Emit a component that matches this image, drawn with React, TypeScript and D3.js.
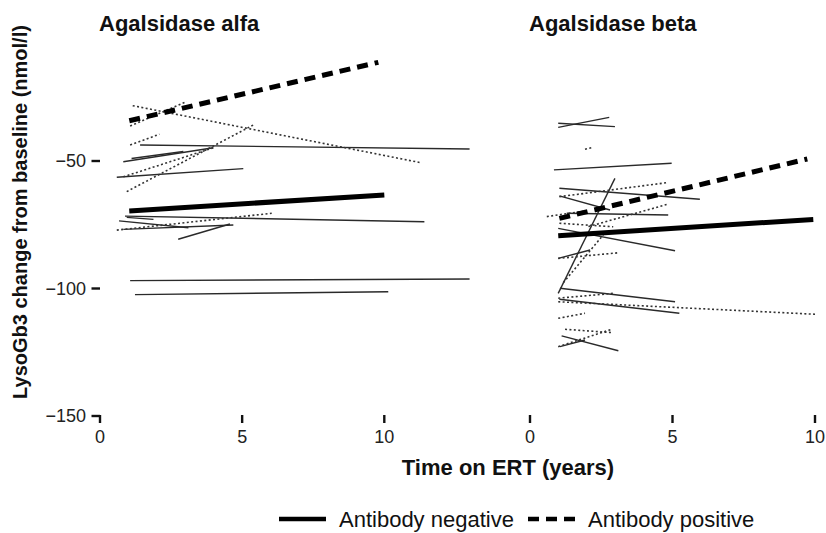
import React from 'react';
import * as d3 from 'd3';

type Seg = [number, number, number, number]; // t0, v0, t1, v1

const panelTitles = ['Agalsidase alfa', 'Agalsidase beta'];
const xTicks = [0, 5, 10];
const yTicks = [-50, -100, -150];
const legendLabels = ['Antibody negative', 'Antibody positive'];

// Agalsidase alfa: individual patient regression lines
const alfaNegative: Seg[] = [
  [1.41, -43.7, 13.0, -45.3],
  [0.82, -50.3, 3.99, -44.8],
  [1.11, -49.0, 2.93, -46.3],
  [0.59, -56.4, 5.04, -53.0],
  [0.88, -71.6, 11.41, -73.8],
  [0.94, -72.1, 1.88, -72.9],
  [0.67, -73.5, 3.11, -76.2],
  [0.82, -76.8, 4.69, -75.1],
  [2.75, -80.7, 4.57, -74.7],
  [1.06, -96.9, 13.0, -96.3],
  [1.23, -102.4, 10.14, -101.3],
];
const alfaPositive: Seg[] = [
  [1.15, -28.3, 11.3, -50.7],
  [1.06, -36.3, 3.05, -26.7],
  [1.06, -43.7, 2.09, -39.5],
  [0.82, -56.2, 3.99, -44.8],
  [0.94, -62.0, 5.39, -35.9],
  [0.59, -77.1, 6.04, -70.5],
];
const alfaMeanNegative: Seg = [1.03, -69.6, 10.0, -63.3];
const alfaMeanPositive: Seg = [1.03, -34.2, 9.79, -11.3];

// Agalsidase beta: individual patient regression lines
const betaNegative: Seg[] = [
  [0.99, -36.8, 2.78, -32.9],
  [0.99, -35.2, 2.98, -36.5],
  [0.84, -53.5, 4.97, -50.9],
  [0.99, -101.9, 2.98, -56.8],
  [1.03, -60.7, 5.96, -65.0],
  [1.03, -63.7, 2.81, -69.2],
  [0.99, -76.4, 5.09, -85.2],
  [1.29, -70.5, 4.85, -71.2],
  [0.99, -88.2, 2.11, -84.9],
  [1.05, -99.9, 5.09, -105.2],
  [1.03, -104.2, 5.24, -109.7],
  [1.11, -118.6, 3.1, -124.4],
  [1.05, -122.8, 1.93, -120.2],
];
const betaPositive: Seg[] = [
  [1.93, -45.4, 2.16, -44.8],
  [1.03, -64.0, 4.8, -58.5],
  [0.59, -71.8, 2.0, -69.5],
  [2.05, -75.7, 4.85, -66.9],
  [1.17, -97.7, 2.57, -79.0],
  [1.03, -74.4, 2.92, -75.8],
  [0.99, -88.2, 3.1, -86.0],
  [0.99, -103.8, 2.92, -101.9],
  [0.99, -105.2, 10.0, -110.1],
  [0.99, -111.7, 1.93, -109.7],
  [1.23, -116.0, 2.87, -117.3],
  [0.99, -122.8, 2.87, -116.0],
];
const betaMeanNegative: Seg = [0.99, -79.3, 9.94, -72.9];
const betaMeanPositive: Seg = [1.03, -72.5, 9.73, -49.2];

const FONT = 'Liberation Sans, Arial, Helvetica, sans-serif';

export default function App() {
  const W = 826;
  const H = 533;
  const y = d3.scaleLinear().domain([-50, -150]).range([161, 416]);
  const xAlfa = d3.scaleLinear().domain([0, 10]).range([100, 384.3]);
  const xBeta = d3.scaleLinear().domain([0, 10]).range([530, 815]);

  const panels = [
    { title: panelTitles[0], x: xAlfa, neg: alfaNegative, pos: alfaPositive, mNeg: alfaMeanNegative, mPos: alfaMeanPositive },
    { title: panelTitles[1], x: xBeta, neg: betaNegative, pos: betaPositive, mNeg: betaMeanNegative, mPos: betaMeanPositive },
  ];

  const path = (x: d3.ScaleLinear<number, number>, s: Seg) =>
    d3.line<[number, number]>().x((d) => x(d[0])).y((d) => y(d[1]))([
      [s[0], s[1]],
      [s[2], s[3]],
    ]) || '';

  const tickTop = y(-150);

  return (
    <svg width={W} height={H} style={{ position: 'absolute', left: 0, top: 0, background: '#fff' }} fontFamily={FONT}>
      <rect x={0} y={0} width={W} height={H} fill="#fff" />
      {/* y axis title */}
      <text
        transform={`translate(27,212) rotate(-90)`}
        textAnchor="middle"
        fontSize={20}
        fontWeight="bold"
        fill="#111"
      >
        LysoGb3 change from baseline (nmol/l)
      </text>
      {/* y ticks */}
      {yTicks.map((v) => (
        <g key={v}>
          <line x1={91.5} x2={100} y1={y(v)} y2={y(v)} stroke="#111" strokeWidth={2.4} />
          <text x={86} y={y(v)} dy="0.35em" textAnchor="end" fontSize={18} fill="#222">
            {'\u2212' + Math.abs(v)}
          </text>
        </g>
      ))}
      {panels.map((p, i) => (
        <g key={i}>
          <text x={p.x(0) - 1} y={31} fontSize={22} fontWeight="bold" fill="#111">
            {p.title}
          </text>
          {xTicks.map((t) => (
            <g key={t}>
              <line x1={p.x(t)} x2={p.x(t)} y1={tickTop - 1} y2={tickTop + 7} stroke="#111" strokeWidth={2.4} />
              <text x={p.x(t)} y={tickTop + 27} textAnchor="middle" fontSize={18} fill="#222">
                {t}
              </text>
            </g>
          ))}
          {p.neg.map((s, j) => (
            <path key={'n' + j} d={path(p.x, s)} stroke="#2a2a2a" strokeWidth={1.4} fill="none" />
          ))}
          {p.pos.map((s, j) => (
            <path
              key={'p' + j}
              d={path(p.x, s)}
              stroke="#333"
              strokeWidth={1.6}
              strokeDasharray="2,2.4"
              fill="none"
            />
          ))}
          <path d={path(p.x, p.mNeg)} stroke="#000" strokeWidth={5} fill="none" />
          <path d={path(p.x, p.mPos)} stroke="#000" strokeWidth={5} strokeDasharray="11,7" fill="none" />
        </g>
      ))}
      {/* x axis title */}
      <text x={508} y={475} textAnchor="middle" fontSize={22} fontWeight="bold" fill="#111">
        Time on ERT (years)
      </text>
      {/* legend */}
      <line x1={279} x2={326} y1={519} y2={519} stroke="#000" strokeWidth={4.5} />
      <text x={339} y={527} fontSize={22} fill="#111">
        {legendLabels[0]}
      </text>
      <line x1={528} x2={575} y1={519} y2={519} stroke="#000" strokeWidth={4.5} strokeDasharray="11,7" />
      <text x={588} y={527} fontSize={22} fill="#111">
        {legendLabels[1]}
      </text>
    </svg>
  );
}
